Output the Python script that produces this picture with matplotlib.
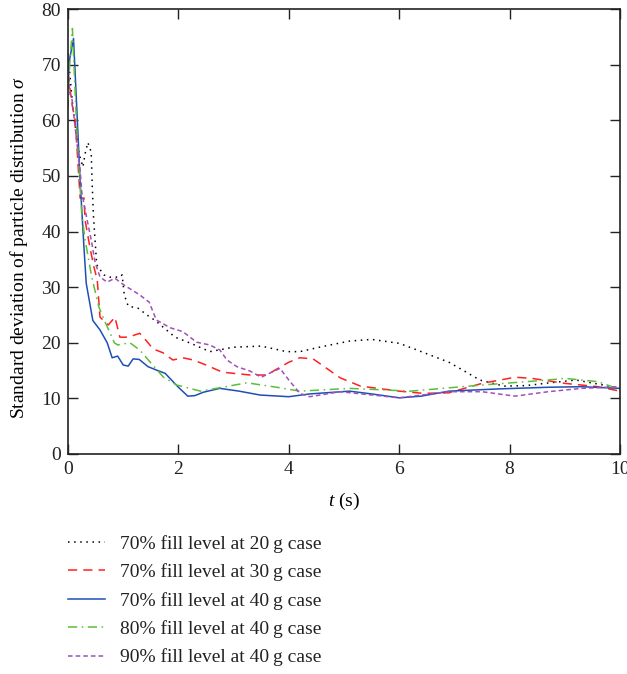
import matplotlib
matplotlib.use("Agg")
import matplotlib.pyplot as plt

plt.rcParams['font.family'] = ['Liberation Serif', 'DejaVu Serif']
plt.rcParams['mathtext.fontset'] = 'custom'
plt.rcParams['mathtext.it'] = 'Liberation Serif:italic'
plt.rcParams['mathtext.rm'] = 'Liberation Serif'

# 70% fill level at 20 g
t_20 = [0.0, 0.09, 0.2, 0.27, 0.31, 0.36, 0.42, 0.44, 0.46, 0.49, 0.52, 0.65, 0.76, 0.94, 0.98, 1.02,
        1.09, 1.27, 1.43, 1.58, 1.94, 2.2, 2.57, 3.0, 3.5, 3.96, 4.2, 4.6, 5.1, 5.5, 6.0, 6.4, 6.9,
        7.2, 7.46, 7.9, 8.3, 8.73, 9.2, 9.7, 10.0]
s_20 = [72, 62, 54, 51.6, 54, 56, 54.3, 48, 43, 38.5, 34, 32.2, 31.8, 31.8, 32.2, 28.6,
        26.6, 26.2, 25, 24, 21, 20, 18.4, 19.2, 19.4, 18.4, 18.4, 19.3, 20.3, 20.6, 19.9, 18.4, 16.5,
        14.8, 13.3, 12.2, 12.3, 12.8, 13.3, 12.4, 11.8]

# 70% fill level at 30 g
t_30 = [0.0, 0.07, 0.13, 0.15, 0.22, 0.29, 0.31, 0.4, 0.47, 0.53, 0.56, 0.58, 0.73, 0.85, 0.94, 1.09,
        1.3, 1.45, 1.54, 1.72, 1.9, 2.08, 2.27, 2.5, 2.8, 3.1, 3.3, 3.6, 3.84, 4.0, 4.2, 4.44, 4.6,
        4.93, 5.3, 6.0, 6.44, 6.9, 7.5, 8.1, 8.4, 9.0, 9.6, 10.0]
s_30 = [68.5, 63, 60, 57, 46, 46, 42, 37, 33.6, 31.3, 27.2, 24.6, 23.2, 24.6, 21, 21,
        21.7, 20, 18.9, 18.2, 16.9, 17.3, 16.9, 16, 14.7, 14.4, 14.2, 14.2, 15.6, 16.5, 17.3, 17.1, 16,
        13.7, 12.2, 11.3, 10.9, 11, 12.7, 13.8, 13.6, 12.7, 12.1, 11.3]

# 70% fill level at 40 g
t_40 = [0.0, 0.03, 0.1, 0.16, 0.22, 0.29, 0.33, 0.45, 0.58, 0.71, 0.8, 0.9, 1.0, 1.09, 1.18, 1.29,
        1.45, 1.6, 1.76, 2.0, 2.17, 2.3, 2.45, 2.75, 3.1, 3.48, 4.0, 4.38, 5.1, 5.5, 6.0, 6.4, 6.9,
        7.8, 8.7, 9.3, 10.0]
s_40 = [68, 71, 74.7, 62, 49, 37, 30.7, 24, 22.3, 20, 17.3, 17.6, 16, 15.8, 17.1, 17,
        15.7, 15.1, 14.5, 12, 10.4, 10.5, 11.1, 11.8, 11.3, 10.6, 10.3, 10.8, 11.3, 10.8, 10.1, 10.4, 11.3,
        11.7, 12, 12.1, 11.8]

# 80% fill level at 40 g
t_80 = [0.0, 0.03, 0.08, 0.16, 0.25, 0.31, 0.43, 0.56, 0.66, 0.84, 0.9, 1.12, 1.3, 1.49, 1.73, 1.97,
        2.4, 2.8, 3.24, 3.78, 4.2, 5.1, 6.2, 7.5, 8.7, 9.0, 9.6, 10.0]
s_80 = [62, 70, 76.5, 58, 43, 38.5, 31.8, 26.4, 24, 20, 19.6, 20, 18.7, 16.5, 13.8, 12.4,
        11.3, 12, 12.8, 12, 11.3, 11.8, 11.3, 12.4, 13.3, 13.6, 13, 11.6]

# 90% fill level at 40 g
t_90 = [0.0, 0.03, 0.07, 0.16, 0.22, 0.25, 0.34, 0.43, 0.49, 0.58, 0.71, 0.85, 1.01, 1.3, 1.47, 1.6,
        1.85, 2.08, 2.33, 2.57, 2.75, 2.88, 3.06, 3.3, 3.5, 3.84, 4.0, 4.2, 4.38, 4.93, 6.0, 6.9, 7.5,
        8.1, 8.7, 9.3, 10.0]
s_90 = [72, 65, 64, 56, 51, 47, 42.4, 38, 34.5, 31.8, 30.9, 31.6, 30.4, 28.6, 27.3, 24.1,
        22.7, 22, 20.1, 19.6, 18.7, 16.9, 15.7, 14.9, 13.8, 15.4, 13.3, 10.9, 10.3, 11.2, 10.1, 11.2, 11.2,
        10.4, 11.2, 11.8, 12.1]

labels = ['70% fill level at 20\u2009g case', '70% fill level at 30\u2009g case',
          '70% fill level at 40\u2009g case', '80% fill level at 40\u2009g case',
          '90% fill level at 40\u2009g case']

fig = plt.figure(figsize=(6.27, 6.74), dpi=100)
ax = fig.add_axes([68/627, 1 - 454/674, (620 - 68)/627, (454 - 9)/674])

lw = 1.1
l1, = ax.plot(t_20, s_20, color='black', lw=lw, linestyle=(0, (1, 3)))
l2, = ax.plot(t_30, s_30, color='#ff2020', lw=lw, linestyle=(0, (6, 4)))
l3, = ax.plot(t_40, s_40, color='#1f4fb5', lw=lw, linestyle='-')
l4, = ax.plot(t_80, s_80, color='#5bbf3a', lw=lw, linestyle=(0, (6, 3, 1, 3)))
l5, = ax.plot(t_90, s_90, color='#a050b8', lw=lw, linestyle=(0, (3, 2)))

fs = 14
ax.set_xlim(0, 10)
ax.set_ylim(0, 80)
ax.set_xticks(range(0, 11, 2))
ax.set_yticks(range(0, 81, 10))
ax.tick_params(direction='in', top=True, right=True, length=7, width=1,
               labelsize=fs, colors='#222222', pad=5)
for sp in ax.spines.values():
    sp.set_linewidth(1.2)
    sp.set_color('#222222')
ax.set_xlabel('$t$ (s)', fontsize=fs, labelpad=9)
ax.set_ylabel('Standard deviation of particle distribution $\\sigma$', fontsize=fs)
ax.yaxis.set_label_coords(-0.069, 0.465)

leg = fig.legend([l1, l2, l3, l4, l5], labels, loc='upper left',
                 bbox_to_anchor=(68/627, 1 - 535/674), frameon=False,
                 borderpad=0, borderaxespad=0,
                 fontsize=fs, handlelength=1.9, handletextpad=0.75, labelspacing=0.54)
for txt in leg.get_texts():
    txt.set_color('#222222')

fig.savefig('out.png', dpi=100)
